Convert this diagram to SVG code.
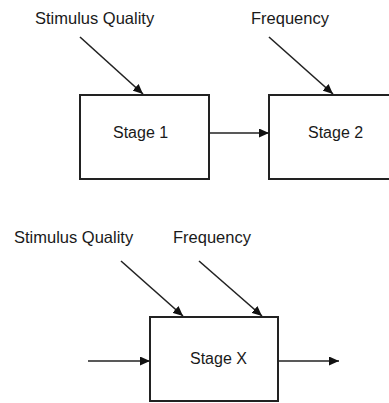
<svg xmlns="http://www.w3.org/2000/svg" width="389" height="403" viewBox="0 0 389 403">
<style>
text{font-family:"Liberation Sans",Arial,sans-serif;font-size:16px;fill:#1a1a1a}
.lbl{font-size:16.5px}
.box{fill:#fff;stroke:#222;stroke-width:2}
.edge{stroke:#222;stroke-width:1.6;fill:none;marker-end:url(#ah)}
</style>
<defs>
<marker id="ah" viewBox="0 0 10 10" refX="10" refY="5" markerWidth="10" markerHeight="9" markerUnits="userSpaceOnUse" orient="auto" preserveAspectRatio="none">
<path d="M0,0 L10,5 L0,10 z" fill="#111"/>
</marker>
</defs>
<rect width="389" height="403" fill="#fff"/>
<g id="labels-top">
<text class="lbl" x="35" y="24">Stimulus Quality</text>
<text class="lbl" x="251" y="24">Frequency</text>
</g>
<g id="stage1">
<rect class="box" x="80" y="95" width="129" height="84"/>
<text x="113" y="138">Stage 1</text>
</g>
<g id="stage2">
<rect class="box" x="269" y="95" width="129" height="84"/>
<text x="308" y="138">Stage 2</text>
</g>
<g id="labels-bottom">
<text class="lbl" x="14" y="243">Stimulus Quality</text>
<text class="lbl" x="173" y="243">Frequency</text>
</g>
<g id="stagex">
<rect class="box" x="150" y="317" width="128" height="84"/>
<text x="190" y="364">Stage X</text>
</g>
<g id="connectors">
<line class="edge" x1="80" y1="37" x2="143" y2="94"/>
<line class="edge" x1="269" y1="37" x2="333" y2="94"/>
<line class="edge" x1="209" y1="133" x2="269" y2="133"/>
<line class="edge" x1="121" y1="261" x2="183" y2="316"/>
<line class="edge" x1="199" y1="261" x2="262" y2="316"/>
<line class="edge" x1="88" y1="361" x2="150" y2="361"/>
<line class="edge" x1="278" y1="361" x2="339" y2="361"/>
</g>
</svg>
